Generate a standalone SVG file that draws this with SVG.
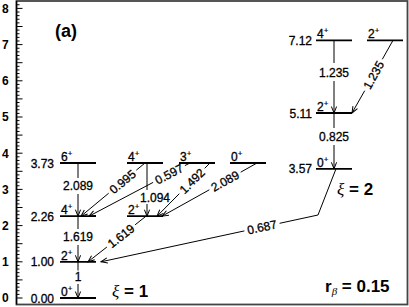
<svg xmlns="http://www.w3.org/2000/svg" width="409" height="307" viewBox="0 0 409 307">
<defs>
<marker id="ah" markerUnits="userSpaceOnUse" markerWidth="10" markerHeight="10" viewBox="-8 -5 10 10" refX="0" refY="0" orient="auto">
<path d="M-6.5,-2.6 L0,0 L-6.5,2.6" fill="none" stroke="#000" stroke-width="1"/>
</marker>
</defs>
<style>
.lv{stroke:#000;stroke-width:1.8;}
.tr{stroke:#000;stroke-width:1;fill:none;}
.ar{marker-end:url(#ah);}
text{font-family:"Liberation Sans",Arial,sans-serif;fill:#000;}
.sp{font-size:12px;stroke:#000;stroke-width:0.3;}
.en{font-size:12px;text-anchor:end;stroke:#000;stroke-width:0.3;}
.lb{font-size:12px;text-anchor:middle;stroke:#000;stroke-width:0.3;}
.tk{font-size:12px;font-weight:bold;}
.sup{font-size:8px;stroke-width:0.2;}
</style>
<rect width="409" height="307" fill="#fff"/>
<!-- frame and axis -->
<g id="frame">
<rect x="16.5" y="1" width="391" height="303.5" fill="none" stroke="#444" stroke-width="1.8"/>
<line x1="16.5" y1="1" x2="16.5" y2="304.5" stroke="#000" stroke-width="1.3"/>
<path stroke="#000" stroke-width="1" fill="none" d="M16.5 298h6M16.5 294.38h3M16.5 290.76h3M16.5 287.14h3M16.5 283.52h3M16.5 279.9h6M16.5 276.28h3M16.5 272.66h3M16.5 269.04h3M16.5 265.42h3M16.5 261.8h6M16.5 258.18h3M16.5 254.56h3M16.5 250.94h3M16.5 247.32h3M16.5 243.7h6M16.5 240.08h3M16.5 236.46h3M16.5 232.84h3M16.5 229.22h3M16.5 225.6h6M16.5 221.98h3M16.5 218.36h3M16.5 214.74h3M16.5 211.12h3M16.5 207.5h6M16.5 203.88h3M16.5 200.26h3M16.5 196.64h3M16.5 193.02h3M16.5 189.4h6M16.5 185.78h3M16.5 182.16h3M16.5 178.54h3M16.5 174.92h3M16.5 171.3h6M16.5 167.68h3M16.5 164.06h3M16.5 160.44h3M16.5 156.82h3M16.5 153.2h6M16.5 149.58h3M16.5 145.96h3M16.5 142.34h3M16.5 138.72h3M16.5 135.1h6M16.5 131.48h3M16.5 127.86h3M16.5 124.24h3M16.5 120.62h3M16.5 117h6M16.5 113.38h3M16.5 109.76h3M16.5 106.14h3M16.5 102.52h3M16.5 98.9h6M16.5 95.28h3M16.5 91.66h3M16.5 88.04h3M16.5 84.42h3M16.5 80.8h6M16.5 77.18h3M16.5 73.56h3M16.5 69.94h3M16.5 66.32h3M16.5 62.7h6M16.5 59.08h3M16.5 55.46h3M16.5 51.84h3M16.5 48.22h3M16.5 44.6h6M16.5 40.98h3M16.5 37.36h3M16.5 33.74h3M16.5 30.12h3M16.5 26.5h6M16.5 22.88h3M16.5 19.26h3M16.5 15.64h3M16.5 12.02h3M16.5 8.4h6M16.5 4.78h3"/>
<text class="tk" x="2" y="302.3">0</text>
<text class="tk" x="2" y="266.1">1</text>
<text class="tk" x="2" y="229.9">2</text>
<text class="tk" x="2" y="193.7">3</text>
<text class="tk" x="2" y="157.5">4</text>
<text class="tk" x="2" y="121.3">5</text>
<text class="tk" x="2" y="85.1">6</text>
<text class="tk" x="2" y="48.9">7</text>
<text class="tk" x="2" y="12.7">8</text>
</g>
<!-- band 1 levels -->
<g id="g1-0">
<line class="lv" x1="60" y1="298" x2="96" y2="298"/>
<text class="sp" x="61" y="296">0<tspan class="sup" dy="-5">+</tspan></text>
<text class="en" x="54" y="302.5">0.00</text>
</g>
<g id="g1-2">
<line class="lv" x1="60" y1="261.8" x2="96" y2="261.8"/>
<text class="sp" x="61" y="259.8">2<tspan class="sup" dy="-5">+</tspan></text>
<text class="en" x="54" y="266.3">1.00</text>
</g>
<g id="g1-4">
<line class="lv" x1="60" y1="216.2" x2="96" y2="216.2"/>
<text class="sp" x="61" y="214.2">4<tspan class="sup" dy="-5">+</tspan></text>
<text class="en" x="54" y="220.7">2.26</text>
</g>
<g id="g1-6">
<line class="lv" x1="60" y1="163" x2="96" y2="163"/>
<text class="sp" x="61" y="161">6<tspan class="sup" dy="-5">+</tspan></text>
<text class="en" x="54" y="167.5">3.73</text>
</g>
<g id="g2-2">
<line class="lv" x1="127" y1="216.2" x2="163" y2="216.2"/>
<text class="sp" x="128" y="214.2">2<tspan class="sup" dy="-5">+</tspan></text>
</g>
<g id="g2-4">
<line class="lv" x1="127" y1="163" x2="163" y2="163"/>
<text class="sp" x="128" y="161">4<tspan class="sup" dy="-5">+</tspan></text>
</g>
<g id="g3-3">
<line class="lv" x1="179" y1="163" x2="215" y2="163"/>
<text class="sp" x="180" y="161">3<tspan class="sup" dy="-5">+</tspan></text>
</g>
<g id="g3-0">
<line class="lv" x1="230" y1="163" x2="266" y2="163"/>
<text class="sp" x="231" y="161">0<tspan class="sup" dy="-5">+</tspan></text>
</g>
<!-- band 2 levels -->
<g id="b2-0">
<line class="lv" x1="316" y1="168.8" x2="352" y2="168.8"/>
<text class="sp" x="317" y="166.8">0<tspan class="sup" dy="-5">+</tspan></text>
<text class="en" x="312" y="173.3">3.57</text>
</g>
<g id="b2-2">
<line class="lv" x1="316" y1="113" x2="352" y2="113"/>
<text class="sp" x="317" y="111">2<tspan class="sup" dy="-5">+</tspan></text>
<text class="en" x="312" y="117.5">5.11</text>
</g>
<g id="b2-4">
<line class="lv" x1="316" y1="40.3" x2="352" y2="40.3"/>
<text class="sp" x="317" y="38.3">4<tspan class="sup" dy="-5">+</tspan></text>
<text class="en" x="312" y="44.8">7.12</text>
</g>
<g id="b2-2b">
<line class="lv" x1="367" y1="40.3" x2="403" y2="40.3"/>
<text class="sp" x="368" y="38.3">2<tspan class="sup" dy="-5">+</tspan></text>
</g>
<!-- connectors -->
<g id="connectors">
<line class="tr" x1="78" y1="163" x2="78" y2="178"/>
<line class="tr ar" x1="78" y1="194" x2="78" y2="216.2"/>
<text class="lb" x="78" y="190">2.089</text>
<line class="tr" x1="78" y1="216.2" x2="78" y2="229"/>
<line class="tr ar" x1="78" y1="245" x2="78" y2="261.8"/>
<text class="lb" x="78" y="240.5">1.619</text>
<line class="tr" x1="78" y1="261.8" x2="78" y2="270.5"/>
<line class="tr ar" x1="78" y1="284" x2="78" y2="298"/>
<text class="lb" x="78" y="281">1</text>

<line class="tr" x1="147" y1="163" x2="147" y2="190"/>
<line class="tr ar" x1="147" y1="204" x2="147" y2="216.2"/>
<text class="lb" x="155" y="201.5">1.094</text>

<line class="tr" x1="145" y1="163" x2="136.3" y2="170.2"/>
<line class="tr ar" x1="108.7" y1="193.2" x2="81" y2="216.2"/>
<text class="lb" transform="translate(122.5 181.7) rotate(-39.7)" y="4.3">0.995</text>

<line class="tr" x1="190" y1="163" x2="184.9" y2="165.6"/>
<line class="tr ar" x1="153.1" y1="182.4" x2="89" y2="216.2"/>
<text class="lb" transform="translate(169 174) rotate(-27.8)" y="4.3">0.597</text>

<line class="tr" x1="210" y1="163" x2="204.7" y2="168.3"/>
<line class="tr ar" x1="179.3" y1="193.7" x2="157" y2="216.2"/>
<text class="lb" transform="translate(192 181) rotate(-45.1)" y="4.3">1.492</text>

<line class="tr" x1="257" y1="163" x2="240.7" y2="172.2"/>
<line class="tr ar" x1="209.3" y1="189.8" x2="162" y2="216.2"/>
<text class="lb" transform="translate(225 181) rotate(-29.25)" y="4.3">2.089</text>

<line class="tr" x1="146" y1="216.2" x2="135.1" y2="224.8"/>
<line class="tr ar" x1="106.9" y1="247" x2="88" y2="261.8"/>
<text class="lb" transform="translate(121 235.9) rotate(-38.2)" y="4.3">1.619</text>

<polyline class="tr" points="336,168.8 318,215 279.6,223.3"/>
<line class="tr ar" x1="244.4" y1="230.9" x2="101" y2="261.8"/>
<text class="lb" transform="translate(262 227.1) rotate(-12.17)" y="4.3">0.687</text>

<line class="tr" x1="334" y1="40.3" x2="334" y2="63"/>
<line class="tr ar" x1="334" y1="81" x2="334" y2="113"/>
<text class="lb" x="334" y="77">1.235</text>
<line class="tr" x1="334" y1="113" x2="334" y2="128"/>
<line class="tr ar" x1="334" y1="145" x2="334" y2="168.8"/>
<text class="lb" x="334" y="141">0.825</text>

<line class="tr" x1="393" y1="40.3" x2="382.3" y2="59.3"/>
<line class="tr ar" x1="364.7" y1="90.7" x2="352" y2="113"/>
<text class="lb" transform="translate(373.5 75) rotate(-60.6)" y="4.3">1.235</text>
</g>
<!-- annotations -->
<text x="55" y="37" font-size="18" font-weight="bold">(a)</text>
<text x="112" y="297" font-size="17"><tspan font-family="Liberation Serif" font-style="italic">ξ</tspan><tspan font-weight="bold"> = 1</tspan></text>
<text x="337" y="195" font-size="17"><tspan font-family="Liberation Serif" font-style="italic">ξ</tspan><tspan font-weight="bold"> = 2</tspan></text>
<text x="325" y="291.5" font-size="17" font-weight="bold">r<tspan font-size="11" dy="3" font-family="Liberation Serif" font-style="italic" font-weight="normal">β</tspan><tspan dy="-3"> = 0.15</tspan></text>
</svg>
